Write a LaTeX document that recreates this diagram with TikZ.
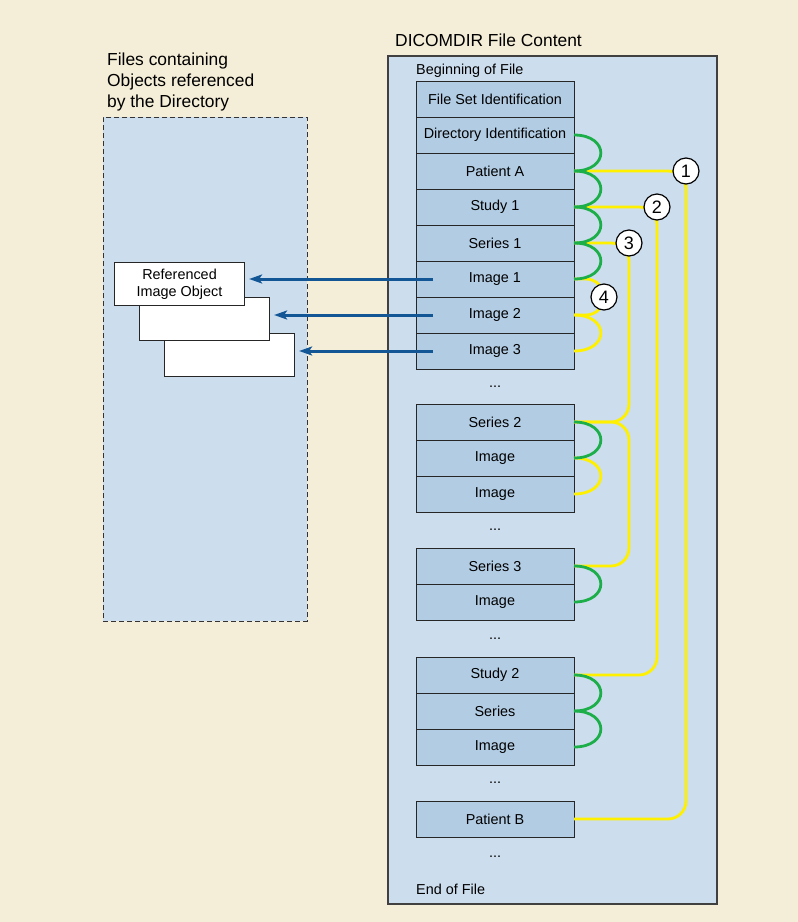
\documentclass[tikz,border=0pt]{standalone}
\usepackage{fontspec}
\setmainfont{Liberation Sans}
\usetikzlibrary{arrows.meta,positioning,calc}

\definecolor{bgbeige}{RGB}{244,237,215}
\definecolor{panelblue}{RGB}{204,221,238}
\definecolor{rowblue}{RGB}{178,204,228}
\definecolor{linkgreen}{RGB}{28,174,72}
\definecolor{linkyellow}{RGB}{255,240,0}
\definecolor{refblue}{RGB}{18,86,150}

\begin{document}
\begin{tikzpicture}[
    x=1pt, y=1pt,
    rowfont/.style={font=\fontsize{14.4}{17}\selectfont},
    panel/.style={draw=black!75, line width=1.2pt, fill=panelblue,
        inner sep=0pt, outer sep=0pt, anchor=north west},
    entry/.style={rowfont, draw=black!85, line width=1pt, fill=rowblue,
        minimum width=158pt, minimum height=36pt, inner sep=0pt, outer sep=0pt},
    gapdots/.style={rowfont, inner sep=0pt},
    plain/.style={rowfont, inner sep=0pt, anchor=base west},
    caption/.style={font=\fontsize{17.4}{21}\selectfont, inner sep=0pt, align=left},
    object/.style={rowfont, draw=black!85, line width=1.1pt, fill=white,
        minimum width=130pt, minimum height=43pt, inner sep=0pt,
        align=center, anchor=north west},
    num/.style={circle, draw=black, line width=1.2pt, fill=white,
        minimum size=26pt, inner sep=0pt, font=\fontsize{18}{18}\selectfont},
    hook/.style={out=0, in=0, looseness=2.55},
    greenlink/.style={linkgreen, line width=2.8pt},
    yellowlink/.style={linkyellow, line width=2.8pt},
    yellowrun/.style={linkyellow, line width=2.8pt, rounded corners=18pt},
    ref/.style={-{Stealth[length=13pt,width=9pt,inset=3pt]}, refblue,
        line width=3pt, shorten >=4pt},
]

% background
\fill[bgbeige] (0,0) rectangle (798,-922);
\useasboundingbox (0,0) rectangle (798,-922);

%----------------------------------
% Panels
%----------------------------------

\node[panel, minimum width=329pt, minimum height=848pt] (dicom) at (388,-56) {};
\node[panel, draw=black!80, line width=1pt, dash pattern=on 5pt off 3pt,
    minimum width=204pt, minimum height=504pt] (files) at (103,-117) {};

\node[caption, anchor=base west] (dicomTitle)
    at ([xshift=7pt,yshift=10pt]dicom.north west) {DICOMDIR File Content};
\node[caption, anchor=north west] (filesTitle)
    at ([xshift=4pt,yshift=64.5pt]files.north west)
    {Files containing\\Objects referenced\\by the Directory};

%----------------------------------
% Directory records
%----------------------------------

\node[entry, anchor=north west] (fsi) at (416,-81) {File Set Identification};
\node[entry, below=0pt of fsi] (dirid) {Directory Identification};
\node[entry, below=0pt of dirid] (patA) {Patient A};
\node[entry, below=0pt of patA] (study1) {Study 1};
\node[entry, below=0pt of study1] (ser1) {Series 1};
\node[entry, below=0pt of ser1] (img1) {Image 1};
\node[entry, below=0pt of img1] (img2) {Image 2};
\node[entry, below=0pt of img2] (img3) {Image 3};

\node[entry, below=35pt of img3] (ser2) {Series 2};
\node[entry, below=0pt of ser2] (imgA) {Image};
\node[entry, below=0pt of imgA] (imgB) {Image};

\node[entry, below=36pt of imgB] (ser3) {Series 3};
\node[entry, below=0pt of ser3] (imgC) {Image};

\node[entry, below=37pt of imgC] (study2) {Study 2};
\node[entry, below=0pt of study2] (serD) {Series};
\node[entry, below=0pt of serD] (imgE) {Image};

\node[entry, below=36pt of imgE] (patB) {Patient B};

\node[gapdots] (gap1) at ($(img3.south)!0.5!(ser2.north)$) {...};
\node[gapdots] (gap2) at ($(imgB.south)!0.5!(ser3.north)$) {...};
\node[gapdots] (gap3) at ($(imgC.south)!0.5!(study2.north)$) {...};
\node[gapdots] (gap4) at ($(imgE.south)!0.5!(patB.north)$) {...};
\node[gapdots, below=19pt of patB] (gap5) {...};

\node[plain] (bof) at ([yshift=6.5pt]fsi.north west) {Beginning of File};
\node[plain] (eof) at ([xshift=28pt,yshift=10pt]dicom.south west) {End of File};

%----------------------------------
% Referenced objects
%----------------------------------

\node[object] (obj3) at (164,-333) {};
\node[object] (obj2) at ([shift={(-25pt,36pt)}]obj3.north west) {};
\node[object] (obj1) at ([shift={(-25pt,35pt)}]obj2.north west)
    {Referenced\\Image Object};

\coordinate (from1) at ([xshift=17pt]img1.west);
\coordinate (from2) at ([xshift=17pt]img2.west);
\coordinate (from3) at ([xshift=17pt]img3.west);

\draw[ref] (from1) -- (from1 -| obj1.east);
\draw[ref] (from2) -- (from2 -| obj2.east);
\draw[ref] (from3) -- (from3 -| obj3.east);

%----------------------------------
% Links between records
%----------------------------------

\coordinate (k1) at (686,-171);
\coordinate (k2) at (657,-207);
\coordinate (k3) at (629,-243);
\coordinate (k4) at (604,-297);

\draw[yellowrun] (patA.east) -- (patA.east -| k1) -- (patB.east -| k1) -- (patB.east);
\draw[yellowrun] (study1.east) -- (study1.east -| k2) -- (study2.east -| k2) -- (study2.east);
\draw[yellowrun] (ser1.east) -- (ser1.east -| k3) -- (ser2.east -| k3) -- (ser2.east);
\draw[yellowrun] (ser2.east) -- (ser2.east -| k3) -- (ser3.east -| k3) -- (ser3.east);
\draw[yellowrun] (img1.east) -- (img1.east -| k4) -- (img2.east -| k4) -- (img2.east);

\draw[yellowlink] (img2.east) to[hook] (img3.east);
\draw[yellowlink] (imgA.east) to[hook] (imgB.east);

\draw[greenlink] (dirid.east) to[hook] (patA.east);
\draw[greenlink] (patA.east) to[hook] (study1.east);
\draw[greenlink] (study1.east) to[hook] (ser1.east);
\draw[greenlink] (ser1.east) to[hook] (img1.east);
\draw[greenlink] (ser2.east) to[hook] (imgA.east);
\draw[greenlink] (ser3.east) to[hook] (imgC.east);
\draw[greenlink] (study2.east) to[hook] (serD.east);
\draw[greenlink] (serD.east) to[hook] (imgE.east);

\node[num] (c1) at (k1) {1};
\node[num] (c2) at (k2) {2};
\node[num] (c3) at (k3) {3};
\node[num] (c4) at (k4) {4};

\end{tikzpicture}
\end{document}
